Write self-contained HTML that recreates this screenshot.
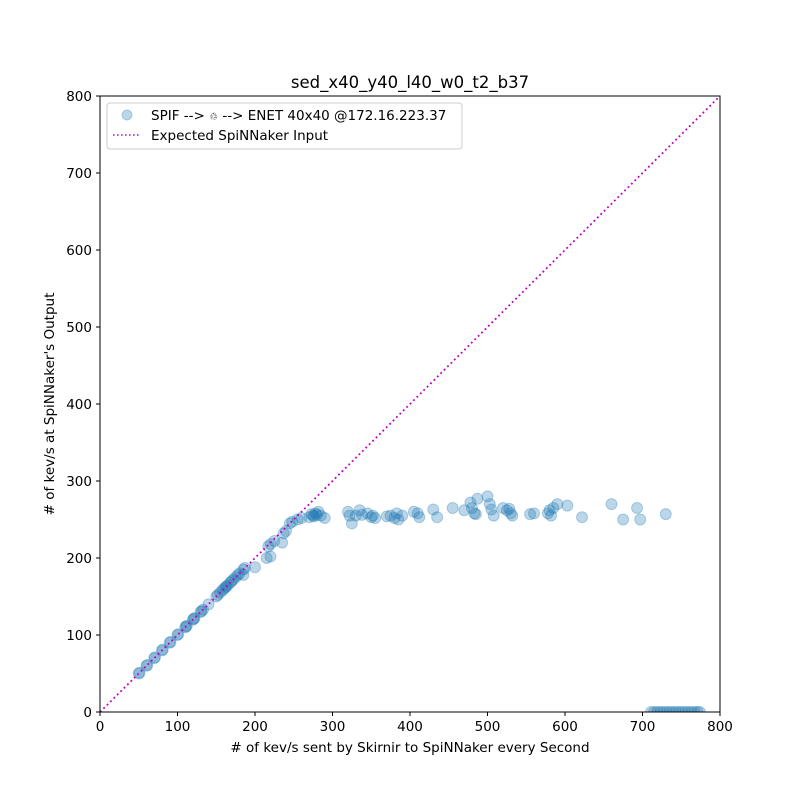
<!DOCTYPE html>
<html><head><meta charset="utf-8"><style>
body{margin:0;background:#fff}
svg text{font-family:"DejaVu Sans","Liberation Sans",sans-serif}
</style></head><body>
<svg id="chart" width="800" height="800" xmlns="http://www.w3.org/2000/svg">
<rect width="800" height="800" fill="#fff"/>
<defs><clipPath id="clip"><rect x="100" y="96" width="620" height="616"/></clipPath></defs>
<text x="410" y="88" text-anchor="middle" font-size="16.5">sed_x40_y40_l40_w0_t2_b37</text>
<g id="points" clip-path="url(#clip)"></g>
<g id="line" clip-path="url(#clip)"></g>
<rect x="100" y="96" width="620" height="616" fill="none" stroke="#000" stroke-width="1"/>
<g id="axes"></g>
<text x="410" y="752" text-anchor="middle" font-size="13.5">#  of kev/s sent by Skirnir to SpiNNaker every Second</text>
<text transform="translate(54,404) rotate(-90)" text-anchor="middle" font-size="13.5"># of kev/s at SpiNNaker's Output</text>
<g>
<rect x="107" y="103" width="355" height="46" rx="3" fill="#fff" fill-opacity="0.8" stroke="#ccc"/>
<circle cx="127" cy="115" r="5" fill="#1f77b4" fill-opacity="0.3" stroke="#1f77b4" stroke-opacity="0.3"/>
<text x="151" y="120" font-size="13.5">SPIF --&gt; <tspan font-size="10">♲</tspan> --&gt; ENET 40x40 @172.16.223.37</text>
<line x1="113" y1="135" x2="141" y2="135" stroke="#bf00bf" stroke-width="1.5" stroke-dasharray="1.5,2.5"/>
<text x="151" y="140" font-size="13.5">Expected SpiNNaker Input</text>
</g>
</svg>
<script>
const xs=[50,51,60,61,70,71,80,81,90,91,100,101,110,111,112,120,121,122,130,131,133,140,150,152,155,158,160,162,163,165,168,170,172,175,178,180,185,187,185,200,215,217,220,220,225,235,237,240,245,248,255,260,270,275,278,282,285,290,280,276,273,
320,322,325,330,335,338,345,350,352,355,370,375,380,383,385,390,405,410,412,430,435,455,470,478,480,483,485,487,500,503,505,508,520,525,528,530,532,555,560,578,580,582,585,590,603,622,660,675,693,697,730,
711,715,719,723,727,731,735,739,743,747,751,755,759,763,767,771,774];
const ys=[50,51,60,61,70,71,80,81,90,91,100,101,110,111,112,120,121,122,130,131,133,140,150,152,155,158,160,162,163,165,168,170,172,175,178,180,185,187,178,188,200,215,202,218,222,220,232,235,245,247,250,252,253,255,258,260,255,252,256,254,257,
260,255,245,255,262,256,258,253,255,252,254,255,252,258,250,255,260,258,253,263,253,265,262,272,265,258,257,277,280,270,263,255,265,262,264,258,255,257,258,258,262,255,265,270,268,253,270,250,265,250,257,
0,0,0,0,0,0,0,0,0,0,0,0,0,0,0,0,0];
const ticks=[0,100,200,300,400,500,600,700,800];
const X=v=>100+v*620/800, Y=v=>712-v*616/800;
const NS='http://www.w3.org/2000/svg';
const pg=document.getElementById('points');
xs.forEach((x,i)=>{const c=document.createElementNS(NS,'circle');


c.setAttribute('cx',X(x));c.setAttribute('cy',Y(ys[i]));c.setAttribute('r',5.5);
c.setAttribute('fill','#1f77b4');c.setAttribute('fill-opacity','0.3');c.setAttribute('stroke','#1f77b4');c.setAttribute('stroke-opacity','0.3');pg.appendChild(c);});
const l=document.createElementNS(NS,'line');


l.setAttribute('x1',X(0));l.setAttribute('y1',Y(0));l.setAttribute('x2',X(800));l.setAttribute('y2',Y(800));
l.setAttribute('stroke','#bf00bf');l.setAttribute('stroke-width','1.8');l.setAttribute('stroke-dasharray','1.8,3');
document.getElementById('line').appendChild(l);
const ax=document.getElementById('axes');
ticks.forEach(t=>{
 let m=document.createElementNS(NS,'line');
 
 
 m.setAttribute('x1',X(t));m.setAttribute('x2',X(t));m.setAttribute('y1',712);m.setAttribute('y2',716);m.setAttribute('stroke','#000');ax.appendChild(m);
 let tx=document.createElementNS(NS,'text');
 
 
 tx.setAttribute('x',X(t));tx.setAttribute('y',731);tx.setAttribute('text-anchor','middle');tx.setAttribute('font-size','13.5');tx.textContent=t;ax.appendChild(tx);
 let n=document.createElementNS(NS,'line');
 
 
 n.setAttribute('x1',96);n.setAttribute('x2',100);n.setAttribute('y1',Y(t));n.setAttribute('y2',Y(t));n.setAttribute('stroke','#000');ax.appendChild(n);
 let ty=document.createElementNS(NS,'text');
 
 
 ty.setAttribute('x',92);ty.setAttribute('y',Y(t)+5);ty.setAttribute('text-anchor','end');ty.setAttribute('font-size','13.5');ty.textContent=t;ax.appendChild(ty);
});
</script>
</body></html>
